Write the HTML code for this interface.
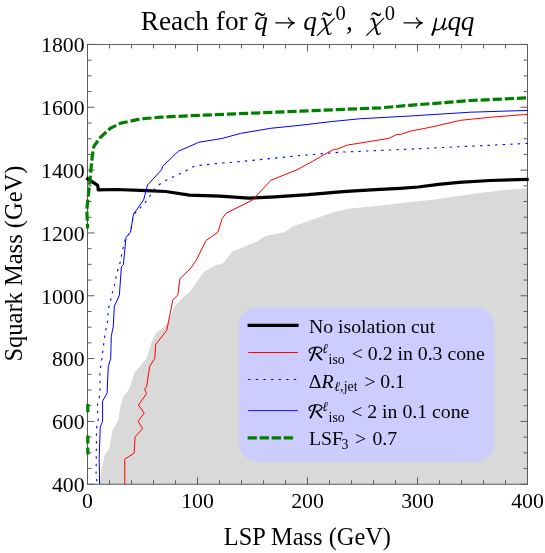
<!DOCTYPE html>
<html><head><meta charset="utf-8">
<style>
html,body{margin:0;padding:0;background:#fff;}
svg{display:block;font-family:"Liberation Serif",serif;will-change:transform;}
.i{font-style:italic;}
</style></head><body>
<svg width="545" height="553" viewBox="0 0 545 553">
<rect width="545" height="553" fill="#fff"/>
<path fill="#d9d9d9" d="M99.6,484.2 L101.2,470.7 L104.2,456.6 L109.3,448.5 L112.3,430.4 L118.3,420.3 L120.4,406.1 L123.4,396.5 L129.4,388.8 L134.5,372.7 L146.6,358.5 L150.6,344.4 L155.7,333.3 L164.8,326.2 L168.8,320.2 L174.9,306.1 L180.9,299.5 L190,291.5 L204.1,271.6 L215.2,265.6 L223.3,263.2 L232.4,251.5 L256.6,241.8 L264.7,236.3 L284.9,231.9 L292.9,226.2 L300,224 L310.1,220.5 L335.3,211.5 L350.5,208.4 L380.7,205.4 L410,202 L435,199.4 L475.4,193.4 L505.6,190 L528,188.3 L528,484.2 Z"/>
<rect x="239" y="307.2" width="255.2" height="154.6" rx="19" ry="19" fill="#ccccff"/>
<rect x="87.5" y="44.45" width="440.0" height="439.8" fill="none" stroke="#5c5c5c" stroke-width="1"/>
<path d="M87.50,484.25 v-7.0 M87.50,44.45 v7.0 M109.50,484.25 v-4.0 M109.50,44.45 v4.0 M131.50,484.25 v-4.0 M131.50,44.45 v4.0 M153.50,484.25 v-4.0 M153.50,44.45 v4.0 M175.50,484.25 v-4.0 M175.50,44.45 v4.0 M197.50,484.25 v-7.0 M197.50,44.45 v7.0 M219.50,484.25 v-4.0 M219.50,44.45 v4.0 M241.50,484.25 v-4.0 M241.50,44.45 v4.0 M263.50,484.25 v-4.0 M263.50,44.45 v4.0 M285.50,484.25 v-4.0 M285.50,44.45 v4.0 M307.50,484.25 v-7.0 M307.50,44.45 v7.0 M329.50,484.25 v-4.0 M329.50,44.45 v4.0 M351.50,484.25 v-4.0 M351.50,44.45 v4.0 M373.50,484.25 v-4.0 M373.50,44.45 v4.0 M395.50,484.25 v-4.0 M395.50,44.45 v4.0 M417.50,484.25 v-7.0 M417.50,44.45 v7.0 M439.50,484.25 v-4.0 M439.50,44.45 v4.0 M461.50,484.25 v-4.0 M461.50,44.45 v4.0 M483.50,484.25 v-4.0 M483.50,44.45 v4.0 M505.50,484.25 v-4.0 M505.50,44.45 v4.0 M527.50,484.25 v-7.0 M527.50,44.45 v7.0 M87.5,484.25 h7.0 M527.5,484.25 h-7.0 M87.5,468.54 h4.0 M527.5,468.54 h-4.0 M87.5,452.84 h4.0 M527.5,452.84 h-4.0 M87.5,437.13 h4.0 M527.5,437.13 h-4.0 M87.5,421.42 h7.0 M527.5,421.42 h-7.0 M87.5,405.71 h4.0 M527.5,405.71 h-4.0 M87.5,390.01 h4.0 M527.5,390.01 h-4.0 M87.5,374.30 h4.0 M527.5,374.30 h-4.0 M87.5,358.59 h7.0 M527.5,358.59 h-7.0 M87.5,342.89 h4.0 M527.5,342.89 h-4.0 M87.5,327.18 h4.0 M527.5,327.18 h-4.0 M87.5,311.47 h4.0 M527.5,311.47 h-4.0 M87.5,295.76 h7.0 M527.5,295.76 h-7.0 M87.5,280.06 h4.0 M527.5,280.06 h-4.0 M87.5,264.35 h4.0 M527.5,264.35 h-4.0 M87.5,248.64 h4.0 M527.5,248.64 h-4.0 M87.5,232.94 h7.0 M527.5,232.94 h-7.0 M87.5,217.23 h4.0 M527.5,217.23 h-4.0 M87.5,201.52 h4.0 M527.5,201.52 h-4.0 M87.5,185.81 h4.0 M527.5,185.81 h-4.0 M87.5,170.11 h7.0 M527.5,170.11 h-7.0 M87.5,154.40 h4.0 M527.5,154.40 h-4.0 M87.5,138.69 h4.0 M527.5,138.69 h-4.0 M87.5,122.99 h4.0 M527.5,122.99 h-4.0 M87.5,107.28 h7.0 M527.5,107.28 h-7.0 M87.5,91.57 h4.0 M527.5,91.57 h-4.0 M87.5,75.86 h4.0 M527.5,75.86 h-4.0 M87.5,60.16 h4.0 M527.5,60.16 h-4.0 M87.5,44.45 h7.0 M527.5,44.45 h-7.0" fill="none" stroke="#5c5c5c" stroke-width="1"/>
<g fill="none" stroke-linejoin="round">
<path stroke="#000" stroke-width="3.2" d="M86.3,177.8 L97.7,185.4 L98.2,189.9 L116,189.5 L146.6,190.6 L165.7,191.5 L189.5,195.1 L220,196.2 L248.6,198.2 L275,196.9 L308,194.7 L340,191.8 L350.5,191.1 L380,189.4 L400,188.3 L418,187 L438.5,184.4 L459,182.3 L490,180.5 L528.7,179.3"/>
<path stroke="#ff0000" stroke-width="1" d="M124.8,484.2 L124.8,459.2 L134.1,453.2 L135.1,436.8 L142.6,428.7 L138.1,421.3 L144.2,413.2 L138.5,405.1 L146.6,393.5 L144.6,388.8 L146.6,386.8 L149.6,366.6 L154.7,358.5 L155.7,344.4 L166.8,330.3 L168.8,320.2 L172.8,300 L177.9,294.9 L179.9,278.7 L190,269 L196.1,260.5 L206.1,240.4 L217.9,232.3 L222.3,218.2 L226.3,213.1 L252.6,200 L270.7,180.4 L297,169.7 L310.1,162.7 L333.3,149.5 L337.3,149.1 L347.4,145.1 L388.8,138.4 L396.9,134.4 L400.9,134.4 L410,131.2 L430.2,127.3 L460.5,120.3 L490.7,117.2 L528,114.3"/>
<path stroke="#0000ff" stroke-width="1.1" stroke-dasharray="2.4,5.2" stroke-dashoffset="4.8" d="M97.2,484.2 L96.1,474.8 L96.5,428.3 L98.2,420.3 L97.2,406.1 L99.8,394.9 L100.2,384.8 L99.8,372.7 L102.2,356.5 L105.2,332.3 L107.3,324 L108,316.8 L107.8,309.6 L110.4,303.2 L111.3,295.5 L114,288.2 L115.3,281 L116.7,273.4 L119.1,266.2 L120.9,259.3 L122.1,252.1 L123.9,244.5 L126,237.3 L130.5,232.3 L133.5,215 L143.7,204.3 L148.3,198.8 L151.9,192.4 L155.6,187.8 L162,182.3 L169.4,178.6 L175.8,175.9 L182.2,172.6 L188.6,169.4 L195,165.8 L204.2,164.9 L222.6,163 L240,161.6 L300,155.6 L340.4,152.2 L410,149.1 L528,143.4"/>
<path stroke="#0000ff" stroke-width="1" d="M99.6,484.2 L99.2,458.6 L100.2,427.3 L102.6,421.3 L102.6,401.1 L107.2,393 L107.2,390 L108.3,366.6 L110.7,358.5 L111.3,336.3 L113.3,326.2 L114.3,306.1 L117.3,300 L119.4,294.9 L121.4,266.6 L123.4,264.6 L126,237.3 L130.5,232.3 L133.5,214.1 L143.6,200 L147.6,184.9 L161.7,169.7 L162.7,166.3 L178.5,151.1 L190,146.2 L198.7,142.3 L222.3,138.4 L240.5,133.4 L270.7,128.3 L300,125.3 L330.3,121.7 L360.5,118.7 L410,116 L470.5,112.2 L528,110.4"/>
<path stroke="#007f00" stroke-width="3.2" d="M87.8,454.6 L87.8,447.5 M87.8,443.5 L87.8,435.4 M87.8,412.2 L87.8,404.1"/>
<path stroke="#007f00" stroke-width="3.2" stroke-dasharray="9.2,2.9" stroke-dashoffset="4.4" stroke-linejoin="miter" d="M87.6,228.5 L86.8,209.6 L87.9,199.6 L89.9,181.7 L90.9,169.8 L92.3,155.9 L93.9,146.3 L100.2,137.6 L110.3,128.3 L120.4,123.3 L140.5,118.9 L160.7,117.2 L190,115.7 L300,111.2 L380.7,107.8 L410,105.3 L470.5,100.5 L526,97.9"/>
</g>
<g font-size="21.8" fill="#000"><text x="87.5" y="507.8" text-anchor="middle">0</text><text x="197.5" y="507.8" text-anchor="middle">100</text><text x="307.5" y="507.8" text-anchor="middle">200</text><text x="417.5" y="507.8" text-anchor="middle">300</text><text x="527.5" y="507.8" text-anchor="middle">400</text><text x="84.6" y="491.9" text-anchor="end">400</text><text x="84.6" y="429.1" text-anchor="end">600</text><text x="84.6" y="366.3" text-anchor="end">800</text><text x="84.6" y="303.5" text-anchor="end">1000</text><text x="84.6" y="240.6" text-anchor="end">1200</text><text x="84.6" y="177.8" text-anchor="end">1400</text><text x="84.6" y="115.0" text-anchor="end">1600</text><text x="84.6" y="52.1" text-anchor="end">1800</text></g>
<!-- title -->
<defs><g id="chi" fill="none" stroke="#000" stroke-linecap="round" stroke-linejoin="round">
<path stroke-width="1.15" d="M334.4,18.3 L317.4,35.4"/>
<path stroke-width="1.1" d="M321.4,19.3 Q322.7,17.4 324,18.6 M328,33.6 Q329.4,35.8 331.3,33"/>
<path stroke-width="2" stroke-linecap="butt" d="M323.7,18.4 C325.2,20.8 326.6,29.6 328.3,34.3"/>
</g></defs>
<g font-size="27.3" fill="#000">
<text x="140.8" y="30.3">Reach for</text>
<text class="i" x="254.3" y="30.3">q</text><text transform="translate(254.4,31.2) scale(1.22,1)">˜</text>
<text class="i" x="303.2" y="30.3">q</text>
<use href="#chi"/><text transform="translate(321.7,31.2) scale(1.15,1)">˜</text>
<text x="335.4" y="19.8" font-size="20.5">0</text>
<text x="346" y="30.3">,</text>
<use href="#chi" x="49.25"/><text transform="translate(371.1,31.2) scale(1.15,1)">˜</text>
<text x="384.65" y="19.8" font-size="20.5">0</text>
<g fill="none" stroke="#000" stroke-linecap="round" stroke-linejoin="round">
<path stroke-width="1.7" d="M436.4,18.6 L434,30 "/>
<path stroke-width="2.2" d="M434,30 L432.3,34.8"/>
<path stroke-width="1.15" d="M434.5,27.4 C434.6,30.4 438.4,30.8 441,28.2 C442.4,26.7 443.5,24.6 444.3,22.4"/>
<path stroke-width="1.7" d="M445.1,18.6 L443,27.6"/>
<path stroke-width="1.1" d="M443,27.6 C442.5,30.2 444.2,30.4 447,27.5"/>
</g>
<text class="i" x="447.5" y="30.3">q</text>
<text class="i" x="460.8" y="30.3">q</text>
</g>
<g fill="none" stroke="#000" stroke-width="1.25" stroke-linecap="round" stroke-linejoin="round">
<path d="M275.8,22.9 H293.8 M288.4,17.9 Q290.2,21.6 294.4,22.9 Q290.2,24.2 288.4,27.9"/>
<path d="M404,22.9 H421.8 M416.4,17.9 Q418.2,21.6 422.4,22.9 Q418.2,24.2 416.4,27.9"/>
</g>
<!-- legend -->
<g fill="none">
<path stroke="#000" stroke-width="3.2" d="M247.6,325.3 H298.6"/>
<path stroke="#ff0000" stroke-width="1" d="M248.2,352.5 H298"/>
<path stroke="#0000ff" stroke-width="1.1" stroke-dasharray="2.4,5.2" d="M248.2,379.5 H298"/>
<path stroke="#0000ff" stroke-width="0.9" d="M248.2,410.6 H298"/>
<path stroke="#007f00" stroke-width="3.3" stroke-dasharray="9.3,2.75" d="M247.6,437.8 H294"/>
</g>
<defs><g id="sR" fill="none" stroke="#000" stroke-linecap="round" stroke-linejoin="round">
<path stroke-width="1.2" d="M310.9,353 C308.5,352.6 308.4,349.8 310.8,348.5 C313.8,346.9 319.2,346.6 321,348.2 C322.9,349.9 321,353.4 316.2,353.8"/>
<path stroke-width="1.9" d="M315.3,347.9 C314.2,352 312.6,357 310.4,360.2"/>
<path stroke-width="1.8" d="M316.4,353.9 C318,355.4 319.4,358.4 321.5,359.5"/>
</g></defs>
<use href="#sR"/><use href="#sR" y="57.6"/>
<g font-size="19.75" fill="#000">
<text x="309" y="332.8">No isolation cut</text>
<text class="i" x="322.3" y="353.2" font-size="13.5">ℓ</text><text x="328.6" y="364.1" font-size="13.8">iso</text><text x="351.8" y="360">&lt; 0.2 in 0.3 cone</text>
<text x="308.8" y="387.7">Δ<tspan class="i">R</tspan></text><text x="334.2" y="391" font-size="13.8"><tspan class="i">ℓ</tspan>,</text><text x="343.7" y="391" font-size="13.8">jet</text><text x="364.6" y="387.7">&gt;</text><text x="380.3" y="387.7">0.1</text>
<text class="i" x="322.3" y="410.8" font-size="13.5">ℓ</text><text x="328.6" y="421.7" font-size="13.8">iso</text><text x="351.2" y="417.6">&lt; 2 in 0.1 cone</text>
<text x="309" y="445.4">LSF</text><text x="341.4" y="448.6" font-size="13.8">3</text><text x="355" y="445.4">&gt;</text><text x="372.4" y="445.4">0.7</text>
</g>
<text x="307.4" y="544.6" font-size="24.4" text-anchor="middle">LSP Mass (GeV)</text>
<text transform="translate(21.5,263.6) rotate(-90)" font-size="24.5" text-anchor="middle">Squark Mass (GeV)</text>
</svg>
</body></html>
